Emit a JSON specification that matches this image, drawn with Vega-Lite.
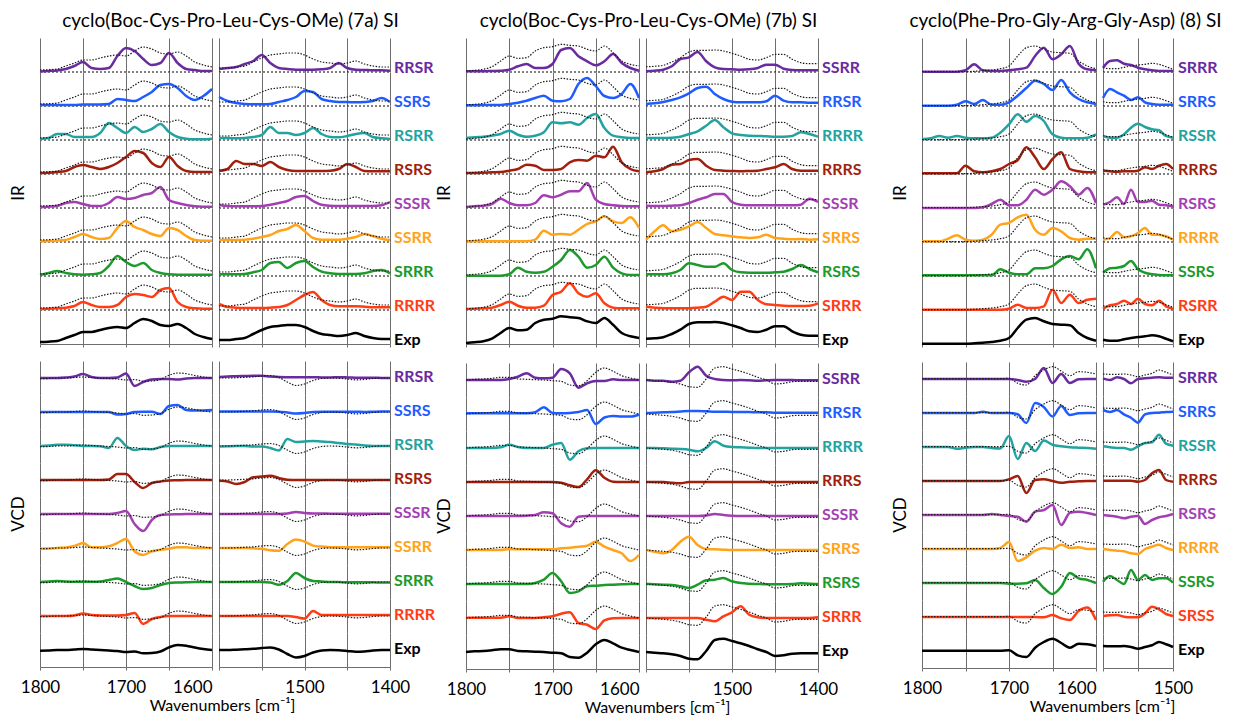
{
"$schema":"https://vega.github.io/schema/vega-lite/v6.json",
"background":"white",
"padding":{"left":10,"top":12,"right":5,"bottom":0},
"config":{
"view":{"stroke":null},
"font":"Lato",
"axis":{"labelFont":"Lato","titleFont":"Lato","labelFontSize":17,"titleFontSize":16,"titleFontWeight":"normal","labelColor":"#000","titleColor":"#000","grid":true,"gridColor":"#6e6e6e","gridWidth":1,"domainColor":"#6e6e6e","tickColor":"#6e6e6e","tickSize":3,"labelPadding":9,"labelFlush":false,"labelOverlap":false},
"header":{"titleFont":"Lato","titleFontSize":17,"titleFontWeight":"normal","titleColor":"#000"},
"title":{"font":"Lato","fontSize":19,"fontWeight":"normal","color":"#000","anchor":"middle"}
},
"datasets":{
"na":[{"k":"t1","n":"RRSR"},{"k":"t2","n":"SSRS"},{"k":"t3","n":"RSRR"},{"k":"t4","n":"RSRS"},{"k":"t5","n":"SSSR"},{"k":"t6","n":"SSRR"},{"k":"t7","n":"SRRR"},{"k":"t8","n":"RRRR"},{"k":"t9","n":"Exp"}],
"nb":[{"k":"t1","n":"SSRR"},{"k":"t2","n":"RRSR"},{"k":"t3","n":"RRRR"},{"k":"t4","n":"RRRS"},{"k":"t5","n":"SSSR"},{"k":"t6","n":"SRRS"},{"k":"t7","n":"RSRS"},{"k":"t8","n":"SRRR"},{"k":"t9","n":"Exp"}],
"nci":[{"k":"t1","n":"SRRR"},{"k":"t2","n":"SRRS"},{"k":"t3","n":"RSSR"},{"k":"t4","n":"RRRS"},{"k":"t5","n":"RSRS"},{"k":"t6","n":"RRRR"},{"k":"t7","n":"SSRS"},{"k":"t8","n":"RSRR"},{"k":"t9","n":"Exp"}],
"ncv":[{"k":"t1","n":"SRRR"},{"k":"t2","n":"SRRS"},{"k":"t3","n":"RSSR"},{"k":"t4","n":"RRRS"},{"k":"t5","n":"RSRS"},{"k":"t6","n":"RRRR"},{"k":"t7","n":"SSRS"},{"k":"t8","n":"SRSS"},{"k":"t9","n":"Exp"}],
"aiL":[
{"w":1800,"t1":0.5,"t2":1,"t3":1,"t4":1,"t5":1,"t6":0.7,"t7":1,"t8":1,"t9":2},
{"w":1790,"t1":1,"t2":1,"t3":2,"t4":1.3,"t5":1.3,"t6":1,"t7":3,"t8":1.3,"t9":2.3},
{"w":1780,"t1":1.5,"t2":1,"t3":6,"t4":2,"t5":2,"t6":1.3,"t7":5,"t8":1.7,"t9":3},
{"w":1770,"t1":3,"t2":1,"t3":6,"t4":3,"t5":5,"t6":2,"t7":3,"t8":2.3,"t9":6},
{"w":1760,"t1":6,"t2":1,"t3":3,"t4":7,"t5":6,"t6":5,"t7":1.7,"t8":4,"t9":9},
{"w":1750,"t1":10,"t2":1.5,"t3":3,"t4":9,"t5":4,"t6":8,"t7":1.3,"t8":8,"t9":12},
{"w":1740,"t1":4,"t2":1.5,"t3":3,"t4":7,"t5":2,"t6":5,"t7":1.7,"t8":5,"t9":12},
{"w":1730,"t1":3,"t2":1.5,"t3":7,"t4":5,"t5":2,"t6":3,"t7":3,"t8":3,"t9":14},
{"w":1720,"t1":4,"t2":2,"t3":17,"t4":7,"t5":5,"t6":4,"t7":10,"t8":3,"t9":16},
{"w":1710,"t1":16,"t2":7,"t3":12,"t4":11,"t5":11,"t6":14,"t7":20,"t8":5,"t9":17},
{"w":1700,"t1":24,"t2":6,"t3":7,"t4":17,"t5":9,"t6":21,"t7":14,"t8":13,"t9":16},
{"w":1690,"t1":21,"t2":5,"t3":13,"t4":23,"t5":10,"t6":15,"t7":10,"t8":16,"t9":21},
{"w":1680,"t1":13,"t2":9,"t3":8,"t4":21,"t5":13,"t6":12,"t7":13,"t8":15,"t9":25},
{"w":1670,"t1":7,"t2":14,"t3":11,"t4":11,"t5":15,"t6":8,"t7":6,"t8":13,"t9":23},
{"w":1660,"t1":9,"t2":21,"t3":16,"t4":7,"t5":21,"t6":6,"t7":3,"t8":20,"t9":19},
{"w":1650,"t1":19,"t2":22,"t3":8,"t4":17,"t5":8,"t6":14,"t7":1.7,"t8":22,"t9":18},
{"w":1640,"t1":9,"t2":18,"t3":3,"t4":8,"t5":5,"t6":12,"t7":1.3,"t8":8,"t9":20},
{"w":1630,"t1":3,"t2":10,"t3":1.3,"t4":3,"t5":3,"t6":6,"t7":1.3,"t8":3,"t9":16},
{"w":1620,"t1":2,"t2":6,"t3":0.7,"t4":2,"t5":1.7,"t6":2,"t7":1.3,"t8":1.7,"t9":10},
{"w":1610,"t1":1,"t2":10,"t3":0.7,"t4":2,"t5":1.3,"t6":1.3,"t7":1.3,"t8":1.3,"t9":7},
{"w":1600,"t1":1,"t2":17,"t3":1.3,"t4":2,"t5":1.3,"t6":1.3,"t7":1.3,"t8":1.3,"t9":5}],
"aiR":[
{"w":1600,"t1":3,"t2":9,"t3":2,"t4":3,"t5":3,"t6":2,"t7":1.7,"t8":6,"t9":4},
{"w":1590,"t1":4,"t2":5,"t3":2,"t4":5,"t5":2,"t6":2,"t7":1.7,"t8":3,"t9":4},
{"w":1580,"t1":5,"t2":3,"t3":1.7,"t4":13,"t5":1.7,"t6":2,"t7":1.7,"t8":2.3,"t9":5},
{"w":1570,"t1":8,"t2":2,"t3":2,"t4":10,"t5":1.7,"t6":2.3,"t7":2,"t8":2,"t9":6},
{"w":1560,"t1":11,"t2":1.7,"t3":3,"t4":10,"t5":1.7,"t6":3.3,"t7":3.7,"t8":2,"t9":10},
{"w":1550,"t1":17,"t2":1.7,"t3":5,"t4":8,"t5":2,"t6":5,"t7":6,"t8":2,"t9":14},
{"w":1540,"t1":9,"t2":2,"t3":13,"t4":12,"t5":3.3,"t6":7,"t7":13,"t8":2.3,"t9":17},
{"w":1530,"t1":4,"t2":4,"t3":7,"t4":7,"t5":5,"t6":11,"t7":14,"t8":3,"t9":18},
{"w":1520,"t1":3,"t2":6,"t3":7,"t4":4,"t5":7,"t6":13,"t7":8,"t8":5,"t9":19},
{"w":1510,"t1":2.3,"t2":9,"t3":5,"t4":3,"t5":11,"t6":17,"t7":13,"t8":10,"t9":19},
{"w":1500,"t1":2.3,"t2":15,"t3":7,"t4":3,"t5":12,"t6":11,"t7":15,"t8":15,"t9":17},
{"w":1490,"t1":2.3,"t2":14,"t3":12,"t4":3,"t5":7,"t6":4,"t7":9,"t8":18,"t9":13},
{"w":1480,"t1":2.7,"t2":7,"t3":6,"t4":3,"t5":3.3,"t6":2.3,"t7":4.3,"t8":10,"t9":10},
{"w":1470,"t1":4,"t2":5,"t3":3,"t4":3.3,"t5":2.3,"t6":2.3,"t7":2.7,"t8":5,"t9":9},
{"w":1460,"t1":9,"t2":4,"t3":2.7,"t4":5,"t5":2,"t6":2.3,"t7":2,"t8":3.7,"t9":8},
{"w":1450,"t1":4,"t2":4,"t3":4,"t4":10,"t5":2,"t6":3.3,"t7":2,"t8":3.7,"t9":9},
{"w":1440,"t1":2.3,"t2":3.7,"t3":6,"t4":7,"t5":2,"t6":5,"t7":2,"t8":3.7,"t9":11},
{"w":1430,"t1":2,"t2":4,"t3":7,"t4":3,"t5":2,"t6":8,"t7":2.7,"t8":3.3,"t9":8},
{"w":1420,"t1":1.7,"t2":5,"t3":3,"t4":2.7,"t5":2,"t6":6,"t7":5,"t8":2.7,"t9":6},
{"w":1410,"t1":1.7,"t2":8,"t3":1.7,"t4":2.7,"t5":2.7,"t6":3.3,"t7":6,"t8":2.7,"t9":5},
{"w":1400,"t1":1.3,"t2":4,"t3":1,"t4":2.7,"t5":6,"t6":2,"t7":2.7,"t8":2.7,"t9":5}],
"avL":[
{"w":1800,"t1":0,"t2":0,"t3":0,"t4":0,"t5":0,"t6":-0.7,"t7":0,"t8":0,"t9":-0.7},
{"w":1790,"t1":0,"t2":0,"t3":0.5,"t4":0,"t5":0,"t6":-0.5,"t7":0.5,"t8":0,"t9":-0.5},
{"w":1780,"t1":0,"t2":0,"t3":1.3,"t4":0,"t5":0,"t6":0,"t7":1,"t8":0,"t9":0},
{"w":1770,"t1":0.5,"t2":0,"t3":1.3,"t4":0,"t5":0,"t6":0.5,"t7":0.5,"t8":0,"t9":0},
{"w":1760,"t1":1.5,"t2":0,"t3":0.7,"t4":0,"t5":0,"t6":2,"t7":0.3,"t8":0.5,"t9":0.5},
{"w":1750,"t1":4,"t2":0,"t3":0,"t4":0,"t5":0,"t6":5,"t7":0.3,"t8":2.5,"t9":1},
{"w":1740,"t1":1,"t2":0,"t3":0,"t4":0,"t5":0,"t6":0.7,"t7":0.3,"t8":1,"t9":0.5},
{"w":1730,"t1":0,"t2":0,"t3":-0.3,"t4":0,"t5":0,"t6":0.7,"t7":0.5,"t8":0.5,"t9":0},
{"w":1720,"t1":0,"t2":0,"t3":-2,"t4":0.5,"t5":0,"t6":1.7,"t7":2,"t8":0.5,"t9":-0.5},
{"w":1710,"t1":0.5,"t2":-2.5,"t3":8,"t4":6,"t5":1,"t6":5,"t7":3.5,"t8":0.5,"t9":-1},
{"w":1700,"t1":4.5,"t2":-2,"t3":0,"t4":6,"t5":3,"t6":9,"t7":0,"t8":1,"t9":-2},
{"w":1690,"t1":-8,"t2":0,"t3":-4,"t4":-2,"t5":-10,"t6":-3.3,"t7":-4,"t8":3,"t9":-1.5},
{"w":1680,"t1":-4,"t2":0.3,"t3":-2.7,"t4":-8,"t5":-17,"t6":-7,"t7":-7,"t8":-8,"t9":-3.3},
{"w":1670,"t1":-1.5,"t2":0.3,"t3":-3.3,"t4":-3,"t5":-6,"t6":-3.3,"t7":-6,"t8":-3,"t9":-3},
{"w":1660,"t1":-1,"t2":-2,"t3":-1,"t4":-1.5,"t5":-1,"t6":-1.7,"t7":-3,"t8":-1,"t9":-1.5},
{"w":1650,"t1":-1,"t2":6,"t3":0,"t4":-0.5,"t5":-0.5,"t6":-0.7,"t7":-1,"t8":0,"t9":2.7},
{"w":1640,"t1":-1.5,"t2":7,"t3":0,"t4":-0.3,"t5":-0.3,"t6":0.7,"t7":-0.5,"t8":0,"t9":5},
{"w":1630,"t1":-0.5,"t2":2,"t3":0,"t4":0,"t5":0,"t6":0.7,"t7":-0.2,"t8":0,"t9":4.3},
{"w":1620,"t1":0,"t2":1.5,"t3":0,"t4":0,"t5":0,"t6":0,"t7":0,"t8":0,"t9":2.5},
{"w":1610,"t1":0,"t2":1.5,"t3":0,"t4":0,"t5":0,"t6":0,"t7":0,"t8":0,"t9":1},
{"w":1600,"t1":0,"t2":2,"t3":0,"t4":0,"t5":0,"t6":0,"t7":0,"t8":0,"t9":0}],
"avR":[
{"w":1600,"t1":1,"t2":0.5,"t3":-0.5,"t4":-0.7,"t5":0,"t6":0,"t7":0,"t8":0,"t9":0},
{"w":1590,"t1":1.5,"t2":0.5,"t3":-0.2,"t4":-1.5,"t5":0,"t6":0,"t7":0,"t8":0,"t9":0},
{"w":1580,"t1":1.7,"t2":0.5,"t3":0,"t4":-4,"t5":0,"t6":0,"t7":0,"t8":0,"t9":0.3},
{"w":1570,"t1":2,"t2":0.5,"t3":0,"t4":-2,"t5":0,"t6":0,"t7":0,"t8":0,"t9":0.7},
{"w":1560,"t1":2.3,"t2":0.5,"t3":-0.5,"t4":2.7,"t5":0,"t6":-0.3,"t7":0,"t8":0,"t9":1.2},
{"w":1550,"t1":2.2,"t2":0.5,"t3":-0.5,"t4":3.5,"t5":0,"t6":-0.8,"t7":0,"t8":0,"t9":2},
{"w":1540,"t1":1.5,"t2":0.5,"t3":-2,"t4":4.3,"t5":0,"t6":-2.3,"t7":-0.5,"t8":0,"t9":2.5},
{"w":1530,"t1":1,"t2":0.3,"t3":-4.5,"t4":2,"t5":0,"t6":-2.8,"t7":-2.7,"t8":0,"t9":0.5},
{"w":1520,"t1":0.8,"t2":-0.5,"t3":7,"t4":0.3,"t5":0.5,"t6":4,"t7":1,"t8":0,"t9":-4},
{"w":1510,"t1":0.7,"t2":-1.5,"t3":4,"t4":0,"t5":2,"t6":8.4,"t7":9,"t8":-1,"t9":-7.5},
{"w":1500,"t1":0.8,"t2":-1,"t3":4.5,"t4":0,"t5":1,"t6":6.4,"t7":4,"t8":-2.5,"t9":-6},
{"w":1490,"t1":0.8,"t2":0,"t3":5,"t4":0,"t5":0.5,"t6":2.4,"t7":1,"t8":5,"t9":-2.5},
{"w":1480,"t1":0.6,"t2":0.3,"t3":4.5,"t4":0,"t5":0.5,"t6":1.4,"t7":0.5,"t8":1,"t9":-0.5},
{"w":1470,"t1":0.5,"t2":0.3,"t3":4,"t4":0,"t5":0.3,"t6":0.7,"t7":0,"t8":1,"t9":0},
{"w":1460,"t1":0.8,"t2":0.3,"t3":3,"t4":0,"t5":0.3,"t6":0.7,"t7":0,"t8":1,"t9":-0.3},
{"w":1450,"t1":0.6,"t2":0.3,"t3":2,"t4":0,"t5":0.3,"t6":0.7,"t7":-0.3,"t8":1,"t9":-1},
{"w":1440,"t1":0.3,"t2":0.3,"t3":1.5,"t4":0,"t5":0.3,"t6":0.7,"t7":-0.3,"t8":1,"t9":-1.8},
{"w":1430,"t1":0.2,"t2":0,"t3":0.5,"t4":0,"t5":0.3,"t6":0.7,"t7":-0.3,"t8":1,"t9":-1.5},
{"w":1420,"t1":0.3,"t2":0.3,"t3":0,"t4":0,"t5":0.3,"t6":0.7,"t7":-0.3,"t8":1,"t9":-0.5},
{"w":1410,"t1":0,"t2":0.5,"t3":0,"t4":0,"t5":0.3,"t6":0.7,"t7":-0.5,"t8":1,"t9":0},
{"w":1400,"t1":0,"t2":0.5,"t3":0,"t4":0,"t5":0.3,"t6":0.7,"t7":-0.5,"t8":1,"t9":0}],
"biL":[
{"w":1800,"t1":0.7,"t2":0.7,"t3":2,"t4":1,"t5":1,"t6":0.7,"t7":0.3,"t8":1,"t9":1},
{"w":1790,"t1":0.7,"t2":0.7,"t3":2.7,"t4":1,"t5":1.7,"t6":0.7,"t7":0.3,"t8":1.3,"t9":1.7},
{"w":1780,"t1":0.7,"t2":1,"t3":3.3,"t4":1.3,"t5":2.3,"t6":0.7,"t7":0.3,"t8":1.7,"t9":2.7},
{"w":1770,"t1":1,"t2":1,"t3":4.3,"t4":1.7,"t5":4,"t6":0.7,"t7":0.3,"t8":2.3,"t9":5.3},
{"w":1760,"t1":1.3,"t2":1,"t3":6,"t4":2,"t5":9.3,"t6":0.7,"t7":0.3,"t8":5,"t9":11},
{"w":1750,"t1":2.3,"t2":2,"t3":9.3,"t4":3.3,"t5":5,"t6":0.7,"t7":1.7,"t8":8.3,"t9":16},
{"w":1740,"t1":5.7,"t2":3.3,"t3":5.3,"t4":5,"t5":2.7,"t6":0.7,"t7":8.3,"t8":4.3,"t9":13.7},
{"w":1730,"t1":8,"t2":5.3,"t3":3.3,"t4":9.3,"t5":2.7,"t6":0.7,"t7":4.3,"t8":2.3,"t9":14.3},
{"w":1720,"t1":4,"t2":8,"t3":4.3,"t4":8.3,"t5":5,"t6":2.3,"t7":3.3,"t8":2.3,"t9":21},
{"w":1710,"t1":4,"t2":10.3,"t3":7.7,"t4":4,"t5":12.7,"t6":11.3,"t7":4.3,"t8":4.3,"t9":24.3},
{"w":1700,"t1":8,"t2":5.3,"t3":17.7,"t4":4,"t5":10.7,"t6":7.3,"t7":9.3,"t8":15,"t9":25.3},
{"w":1690,"t1":22,"t2":4.7,"t3":16.7,"t4":5,"t5":13.3,"t6":8,"t7":16,"t8":18.3,"t9":27.7},
{"w":1680,"t1":24,"t2":7,"t3":17.7,"t4":11.7,"t5":16.7,"t6":7.3,"t7":26,"t8":26.7,"t9":26.7},
{"w":1670,"t1":15.7,"t2":22,"t3":15.3,"t4":14,"t5":16.7,"t6":12.3,"t7":19.3,"t8":16.7,"t9":26},
{"w":1660,"t1":10.7,"t2":28,"t3":22,"t4":13.3,"t5":25,"t6":18,"t7":8.3,"t8":13.3,"t9":22.7},
{"w":1650,"t1":6.7,"t2":20,"t3":26,"t4":18.3,"t5":8.3,"t6":20.7,"t7":11,"t8":16.7,"t9":21},
{"w":1640,"t1":10.7,"t2":10,"t3":12,"t4":16.7,"t5":4,"t6":25.7,"t7":19.3,"t8":6.7,"t9":26},
{"w":1630,"t1":18,"t2":8,"t3":4.3,"t4":27.3,"t5":2.7,"t6":20.7,"t7":8.3,"t8":2.3,"t9":19.3},
{"w":1620,"t1":9,"t2":12,"t3":2.7,"t4":11.7,"t5":2,"t6":19,"t7":2.7,"t8":1.7,"t9":11},
{"w":1610,"t1":4,"t2":22,"t3":2,"t4":5,"t5":1.7,"t6":24.7,"t7":1,"t8":1.7,"t9":7.7},
{"w":1600,"t1":1.3,"t2":8,"t3":2,"t4":2.7,"t5":1.7,"t6":14,"t7":1,"t8":1.7,"t9":6}],
"biR":[
{"w":1600,"t1":0.7,"t2":2,"t3":2,"t4":1.7,"t5":2.3,"t6":2.3,"t7":1.7,"t8":3.3,"t9":5.3},
{"w":1590,"t1":1.3,"t2":2.7,"t3":2,"t4":2.7,"t5":2,"t6":10.7,"t7":1.7,"t8":2.3,"t9":5.7},
{"w":1580,"t1":2.3,"t2":4,"t3":2,"t4":5,"t5":2,"t6":16.7,"t7":1.7,"t8":1.7,"t9":6.7},
{"w":1570,"t1":5.7,"t2":6,"t3":2.3,"t4":9.3,"t5":2.3,"t6":10.7,"t7":2.7,"t8":1.7,"t9":10},
{"w":1560,"t1":13,"t2":8.7,"t3":3.3,"t4":10,"t5":2.7,"t6":12.3,"t7":6,"t8":1.7,"t9":14.3},
{"w":1550,"t1":14.7,"t2":12.7,"t3":6,"t4":14,"t5":5,"t6":15.7,"t7":12.7,"t8":1.7,"t9":20},
{"w":1540,"t1":20,"t2":18,"t3":8.7,"t4":15,"t5":8.3,"t6":20,"t7":11,"t8":2.3,"t9":21.7},
{"w":1530,"t1":10.7,"t2":19.3,"t3":14.3,"t4":8.3,"t5":10.7,"t6":14,"t7":9.3,"t8":3.3,"t9":21.7},
{"w":1520,"t1":4.7,"t2":12,"t3":20,"t4":4,"t5":14,"t6":8,"t7":9.3,"t8":8.3,"t9":22},
{"w":1510,"t1":3,"t2":7,"t3":12.7,"t4":3.3,"t5":14,"t6":6.7,"t7":12.7,"t8":13.3,"t9":21},
{"w":1500,"t1":2.7,"t2":4.3,"t3":6.7,"t4":3,"t5":6,"t6":5.7,"t7":6,"t8":10,"t9":18.7},
{"w":1490,"t1":2.3,"t2":3.7,"t3":5,"t4":2.7,"t5":3.3,"t6":4.7,"t7":3.7,"t8":18.3,"t9":16},
{"w":1480,"t1":2.7,"t2":3.7,"t3":4.3,"t4":3,"t5":2.7,"t6":4,"t7":3.3,"t8":18.3,"t9":12.7},
{"w":1470,"t1":4,"t2":3.7,"t3":4,"t4":3.3,"t5":2.7,"t6":4.7,"t7":3.3,"t8":10,"t9":12},
{"w":1460,"t1":7.3,"t2":4.7,"t3":3.7,"t4":5,"t5":2.7,"t6":7.3,"t7":3.3,"t8":5.7,"t9":14.3},
{"w":1450,"t1":7.3,"t2":10.3,"t3":3.3,"t4":6.7,"t5":2.7,"t6":4,"t7":3.7,"t8":5,"t9":17.7},
{"w":1440,"t1":3.3,"t2":5.3,"t3":3.3,"t4":10,"t5":2.7,"t6":3.3,"t7":4.3,"t8":4.3,"t9":17.7},
{"w":1430,"t1":2,"t2":3.7,"t3":4,"t4":5,"t5":2.7,"t6":2.7,"t7":7,"t8":4,"t9":12.7},
{"w":1420,"t1":1.7,"t2":3.7,"t3":7.7,"t4":3.3,"t5":3.3,"t6":3,"t7":11,"t8":4,"t9":9.3},
{"w":1410,"t1":1.7,"t2":3.3,"t3":6,"t4":3.3,"t5":9.3,"t6":2.3,"t7":7,"t8":4.3,"t9":8.3},
{"w":1400,"t1":1.7,"t2":3.3,"t3":3.3,"t4":3.3,"t5":6,"t6":2.7,"t7":3.7,"t8":6.7,"t9":8.3}],
"bvL":[
{"w":1800,"t1":0,"t2":0.7,"t3":0,"t4":0,"t5":0,"t6":0,"t7":0,"t8":0.3,"t9":0},
{"w":1790,"t1":0,"t2":0.7,"t3":0,"t4":0,"t5":0,"t6":0,"t7":0,"t8":0.3,"t9":0.7},
{"w":1780,"t1":0,"t2":0.7,"t3":0,"t4":0,"t5":0,"t6":0,"t7":0,"t8":0.3,"t9":1},
{"w":1770,"t1":0,"t2":0.7,"t3":0,"t4":0,"t5":0,"t6":0,"t7":0,"t8":0.3,"t9":1.7},
{"w":1760,"t1":0,"t2":0.7,"t3":0.7,"t4":0,"t5":0,"t6":0,"t7":0,"t8":0.3,"t9":2.7},
{"w":1750,"t1":1,"t2":0.7,"t3":3.3,"t4":0,"t5":0,"t6":1,"t7":0,"t8":1.7,"t9":2.7},
{"w":1740,"t1":3.3,"t2":0.7,"t3":1,"t4":0,"t5":0,"t6":0.7,"t7":0,"t8":0,"t9":1},
{"w":1730,"t1":6.7,"t2":0.7,"t3":0,"t4":0,"t5":0.3,"t6":0.7,"t7":0,"t8":0,"t9":0.7},
{"w":1720,"t1":2.3,"t2":1.7,"t3":0,"t4":0,"t5":1,"t6":0.7,"t7":1,"t8":0,"t9":0.3},
{"w":1710,"t1":1.7,"t2":6.7,"t3":0,"t4":0,"t5":3.7,"t6":0.7,"t7":4.3,"t8":0.7,"t9":0},
{"w":1700,"t1":2.3,"t2":1,"t3":3.3,"t4":0,"t5":2.7,"t6":0.7,"t7":11,"t8":1.7,"t9":-0.7},
{"w":1690,"t1":11,"t2":0.7,"t3":5,"t4":-0.7,"t5":-7.3,"t6":1.7,"t7":2.7,"t8":4.3,"t9":-1.3},
{"w":1680,"t1":6.7,"t2":1,"t3":-11.7,"t4":-3.3,"t5":-10.7,"t6":2.3,"t7":-9,"t8":5.7,"t9":-5},
{"w":1670,"t1":-7.7,"t2":2,"t3":-3.3,"t4":-5,"t5":-0.7,"t6":3.3,"t7":-7.3,"t8":-5,"t9":-5.7},
{"w":1660,"t1":-3.3,"t2":4,"t3":-0.3,"t4":2.7,"t5":0,"t6":4.3,"t7":-2.3,"t8":-6.7,"t9":-0.7},
{"w":1650,"t1":-1,"t2":-10,"t3":0,"t4":11.7,"t5":0,"t6":8.3,"t7":-1.7,"t8":-11,"t9":7.7},
{"w":1640,"t1":-1,"t2":-3.5,"t3":0,"t4":4.3,"t5":0,"t6":3.3,"t7":-1,"t8":-2.3,"t9":12},
{"w":1630,"t1":0.7,"t2":-2,"t3":0,"t4":0.3,"t5":0,"t6":0,"t7":-0.7,"t8":-0.3,"t9":8.7},
{"w":1620,"t1":0,"t2":-2.5,"t3":0,"t4":0,"t5":0,"t6":-3.3,"t7":-0.3,"t8":0,"t9":4.3},
{"w":1610,"t1":0,"t2":-2.5,"t3":0,"t4":0,"t5":0,"t6":-11,"t7":0,"t8":0,"t9":2},
{"w":1600,"t1":0,"t2":-0.7,"t3":0,"t4":0,"t5":0,"t6":-5,"t7":0,"t8":0,"t9":0}],
"bvR":[
{"w":1600,"t1":0,"t2":1,"t3":0,"t4":0,"t5":0,"t6":0,"t7":0,"t8":0,"t9":0},
{"w":1590,"t1":-0.7,"t2":1.3,"t3":0,"t4":0,"t5":0,"t6":-1.7,"t7":-0.3,"t8":0,"t9":-0.7},
{"w":1580,"t1":-0.7,"t2":1.7,"t3":-0.3,"t4":0,"t5":0,"t6":-3.3,"t7":-0.7,"t8":0,"t9":-1.3},
{"w":1570,"t1":-1.7,"t2":2,"t3":-0.7,"t4":-0.7,"t5":0,"t6":0,"t7":-1,"t8":0,"t9":-2.3},
{"w":1560,"t1":-0.7,"t2":2.5,"t3":-1,"t4":-1.3,"t5":0,"t6":8.3,"t7":-2.3,"t8":0,"t9":-4},
{"w":1550,"t1":7.7,"t2":3,"t3":-1.7,"t4":0,"t5":0,"t6":13.3,"t7":-4,"t8":0,"t9":-6.7},
{"w":1540,"t1":13.3,"t2":3,"t3":-3.3,"t4":0,"t5":0,"t6":5,"t7":-0.7,"t8":0,"t9":-7.3},
{"w":1530,"t1":4.3,"t2":2.7,"t3":0,"t4":0,"t5":0.5,"t6":1,"t7":3.7,"t8":-1.7,"t9":1},
{"w":1520,"t1":1,"t2":2.3,"t3":6.7,"t4":0,"t5":2,"t6":0.7,"t7":4.3,"t8":-3.3,"t9":12},
{"w":1510,"t1":0,"t2":2.3,"t3":2.3,"t4":0,"t5":1,"t6":0.3,"t7":6,"t8":1.7,"t9":13.3},
{"w":1500,"t1":-0.3,"t2":2,"t3":1,"t4":0,"t5":0.3,"t6":0,"t7":2.7,"t8":5.7,"t9":11},
{"w":1490,"t1":0,"t2":2,"t3":0.7,"t4":0,"t5":0,"t6":0,"t7":1,"t8":11.7,"t9":8.7},
{"w":1480,"t1":-0.3,"t2":2,"t3":0.3,"t4":0,"t5":0,"t6":0,"t7":0.3,"t8":3.3,"t9":6},
{"w":1470,"t1":-0.7,"t2":1.7,"t3":0,"t4":0,"t5":0,"t6":0,"t7":0,"t8":0.7,"t9":2.7},
{"w":1460,"t1":-0.3,"t2":1.7,"t3":0,"t4":0,"t5":0,"t6":0,"t7":-0.3,"t8":0,"t9":0},
{"w":1450,"t1":0,"t2":1.3,"t3":0,"t4":0,"t5":0,"t6":0,"t7":-0.3,"t8":0,"t9":-4},
{"w":1440,"t1":0,"t2":1.3,"t3":0,"t4":0,"t5":0,"t6":0,"t7":-0.3,"t8":0,"t9":-3.3},
{"w":1430,"t1":0,"t2":1.3,"t3":0,"t4":0,"t5":0,"t6":0,"t7":0,"t8":0,"t9":-1.7},
{"w":1420,"t1":-0.3,"t2":1.3,"t3":0,"t4":0,"t5":0,"t6":0,"t7":0.7,"t8":0,"t9":-1.3},
{"w":1410,"t1":-0.3,"t2":1.3,"t3":0,"t4":0,"t5":0,"t6":0,"t7":0.3,"t8":0,"t9":-1.3},
{"w":1400,"t1":-0.3,"t2":1.3,"t3":0,"t4":0,"t5":0,"t6":0,"t7":0,"t8":0.7,"t9":-1.3}],
"ciL":[
{"w":1800,"t1":0.3,"t2":0.3,"t3":0.7,"t4":0.7,"t5":0,"t6":0.7,"t7":0.7,"t8":0.3,"t9":0.3},
{"w":1790,"t1":0.3,"t2":0.3,"t3":1.7,"t4":0.7,"t5":0,"t6":0.7,"t7":0.7,"t8":0.3,"t9":0.3},
{"w":1780,"t1":0.3,"t2":0.3,"t3":4,"t4":0.7,"t5":0,"t6":0.7,"t7":0.7,"t8":0.3,"t9":0.3},
{"w":1770,"t1":0.3,"t2":0.3,"t3":2.3,"t4":0.7,"t5":0,"t6":3.3,"t7":0.7,"t8":0.3,"t9":0.3},
{"w":1760,"t1":0.3,"t2":1.3,"t3":4,"t4":0.7,"t5":0,"t6":6.7,"t7":0.7,"t8":0.3,"t9":0.3},
{"w":1750,"t1":1.7,"t2":4.7,"t3":2.3,"t4":8.3,"t5":0,"t6":2.3,"t7":0.7,"t8":0.3,"t9":0.3},
{"w":1740,"t1":7.7,"t2":2,"t3":1.7,"t4":2.7,"t5":0,"t6":1.3,"t7":0.7,"t8":0.3,"t9":0.7},
{"w":1730,"t1":1.7,"t2":6,"t3":1.7,"t4":1.7,"t5":0.7,"t6":2.3,"t7":0.7,"t8":0.3,"t9":1.3},
{"w":1720,"t1":1,"t2":1.3,"t3":2.3,"t4":2.7,"t5":4,"t6":7.3,"t7":0.7,"t8":0.3,"t9":2},
{"w":1710,"t1":1,"t2":1.3,"t3":7.3,"t4":5,"t5":8.3,"t6":17.3,"t7":6.7,"t8":0.3,"t9":3.3},
{"w":1700,"t1":1.7,"t2":3.7,"t3":15.7,"t4":10,"t5":2.7,"t6":19,"t7":3.3,"t8":1.3,"t9":6},
{"w":1690,"t1":2.7,"t2":10.3,"t3":25.7,"t4":14,"t5":2.7,"t6":24.7,"t7":1.7,"t8":5.3,"t9":16},
{"w":1680,"t1":4.3,"t2":18,"t3":18.3,"t4":26.7,"t5":8.3,"t6":27.3,"t7":1.7,"t8":2,"t9":24.3},
{"w":1670,"t1":16,"t2":25.3,"t3":24,"t4":16.7,"t5":18.3,"t6":12.3,"t7":7.7,"t8":2,"t9":26},
{"w":1660,"t1":24.3,"t2":22,"t3":19,"t4":5,"t5":13.3,"t6":7.3,"t7":7.7,"t8":3.7,"t9":22.7},
{"w":1650,"t1":12.7,"t2":16,"t3":5.7,"t4":15,"t5":18.3,"t6":14,"t7":10,"t8":20.3,"t9":20},
{"w":1640,"t1":17.7,"t2":26,"t3":2.3,"t4":21.7,"t5":26.7,"t6":10.7,"t7":16.7,"t8":7,"t9":19.3},
{"w":1630,"t1":26,"t2":13.7,"t3":1.7,"t4":5,"t5":21.7,"t6":4,"t7":20,"t8":15.3,"t9":18.7},
{"w":1620,"t1":8.3,"t2":7,"t3":1.7,"t4":2.7,"t5":13.3,"t6":2.3,"t7":16.7,"t8":7,"t9":11},
{"w":1610,"t1":2.7,"t2":3.7,"t3":2.3,"t4":1.7,"t5":20,"t6":3.3,"t7":26.7,"t8":10.3,"t9":6},
{"w":1600,"t1":1.7,"t2":2,"t3":5.7,"t4":1.7,"t5":5,"t6":3.3,"t7":7.7,"t8":11.3,"t9":3.3}],
"ciR":[
{"w":1600,"t1":4.3,"t2":8,"t3":4,"t4":3.3,"t5":3.3,"t6":2.3,"t7":3.3,"t8":1.3,"t9":4.3},
{"w":1590,"t1":11,"t2":17,"t3":2.3,"t4":2.7,"t5":6,"t6":4,"t7":7.7,"t8":4.7,"t9":3.3},
{"w":1580,"t1":11.7,"t2":13.7,"t3":2.3,"t4":2.3,"t5":10.7,"t6":10,"t7":8.3,"t8":6,"t9":3.3},
{"w":1570,"t1":8.3,"t2":10.3,"t3":5.7,"t4":2.7,"t5":4,"t6":4.7,"t7":10,"t8":9.3,"t9":4.7},
{"w":1560,"t1":7,"t2":6,"t3":12.3,"t4":2.7,"t5":18.3,"t6":5.7,"t7":15,"t8":6,"t9":6},
{"w":1550,"t1":4.3,"t2":8.7,"t3":16.3,"t4":3.3,"t5":6,"t6":9,"t7":6.7,"t8":11.3,"t9":7},
{"w":1540,"t1":2.7,"t2":3.7,"t3":13,"t4":6.7,"t5":6,"t6":14,"t7":3.3,"t8":6,"t9":7.7},
{"w":1530,"t1":1.7,"t2":2,"t3":10.7,"t4":5,"t5":7.3,"t6":7.3,"t7":1.7,"t8":4.7,"t9":8.7},
{"w":1520,"t1":1,"t2":1.3,"t3":9.7,"t4":8.3,"t5":3.3,"t6":7.3,"t7":1,"t8":9.3,"t9":7.7},
{"w":1510,"t1":1,"t2":1.3,"t3":4,"t4":10,"t5":2.7,"t6":5.7,"t7":0.7,"t8":3.7,"t9":5.3},
{"w":1500,"t1":1,"t2":1.3,"t3":2.3,"t4":5,"t5":1.7,"t6":2.3,"t7":0.7,"t8":1.3,"t9":2.7}],
"cvL":[
{"w":1800,"t1":0,"t2":0,"t3":0,"t4":0,"t5":0,"t6":0,"t7":0,"t8":0,"t9":0.3},
{"w":1790,"t1":0,"t2":0,"t3":0,"t4":0,"t5":0,"t6":0,"t7":0,"t8":0,"t9":0.3},
{"w":1780,"t1":0,"t2":0,"t3":0,"t4":0,"t5":0,"t6":0,"t7":0,"t8":0,"t9":0.3},
{"w":1770,"t1":0,"t2":0,"t3":0,"t4":0,"t5":0,"t6":0,"t7":0,"t8":0,"t9":0.3},
{"w":1760,"t1":0,"t2":0,"t3":-1.7,"t4":0,"t5":0,"t6":0,"t7":0,"t8":0,"t9":0.3},
{"w":1750,"t1":0,"t2":0,"t3":-0.7,"t4":0,"t5":0,"t6":0,"t7":0,"t8":0,"t9":0.3},
{"w":1740,"t1":0,"t2":0,"t3":0,"t4":0,"t5":0,"t6":0,"t7":0,"t8":0,"t9":0.3},
{"w":1730,"t1":0,"t2":1.3,"t3":0,"t4":0,"t5":0,"t6":0,"t7":0,"t8":0,"t9":0.3},
{"w":1720,"t1":0,"t2":0,"t3":-1,"t4":0,"t5":1,"t6":0,"t7":0,"t8":0,"t9":0.3},
{"w":1710,"t1":0,"t2":0,"t3":-1.5,"t4":0,"t5":0,"t6":1,"t7":0,"t8":0,"t9":0.3},
{"w":1700,"t1":0,"t2":0,"t3":11,"t4":1.7,"t5":-1,"t6":7,"t7":-0.7,"t8":0,"t9":0.7},
{"w":1690,"t1":-1,"t2":-1.3,"t3":-12,"t4":5,"t5":-1.7,"t6":-12,"t7":-0.7,"t8":0,"t9":-4.3},
{"w":1680,"t1":-2.7,"t2":-10,"t3":4,"t4":-12,"t5":-6.7,"t6":-8.3,"t7":-0.3,"t8":0,"t9":-6},
{"w":1670,"t1":0,"t2":10,"t3":-4,"t4":1,"t5":3.3,"t6":-1.7,"t7":3,"t8":0,"t9":3.3},
{"w":1660,"t1":11,"t2":6,"t3":6.5,"t4":1.7,"t5":5,"t6":1,"t7":-5,"t8":-0.3,"t9":9},
{"w":1650,"t1":-4,"t2":-3.5,"t3":2.3,"t4":0,"t5":10,"t6":0,"t7":-11,"t8":2,"t9":12.3},
{"w":1640,"t1":5,"t2":7,"t3":0.7,"t4":-1.7,"t5":-10,"t6":4.3,"t7":-3.7,"t8":-1.3,"t9":8},
{"w":1630,"t1":-4,"t2":-2,"t3":-0.3,"t4":-0.7,"t5":2.3,"t6":1,"t7":10,"t8":-3,"t9":3.3},
{"w":1620,"t1":-0.3,"t2":-0.3,"t3":-0.7,"t4":-0.3,"t5":3.3,"t6":1.7,"t7":4.7,"t8":6,"t9":7.3},
{"w":1610,"t1":0,"t2":0,"t3":-1,"t4":0,"t5":2,"t6":0,"t7":3,"t8":9.5,"t9":6.7},
{"w":1600,"t1":0,"t2":0,"t3":-1.7,"t4":0,"t5":0,"t6":0,"t7":0,"t8":-3,"t9":5}],
"cvR":[
{"w":1600,"t1":0.7,"t2":3,"t3":0.7,"t4":0.3,"t5":0,"t6":0,"t7":1.3,"t8":1,"t9":5},
{"w":1590,"t1":-1,"t2":1,"t3":-0.3,"t4":0.3,"t5":-0.7,"t6":-1,"t7":7,"t8":1.7,"t9":4.7},
{"w":1580,"t1":1.7,"t2":3,"t3":-1,"t4":0.3,"t5":-1.7,"t6":-1.7,"t7":3,"t8":2,"t9":4.7},
{"w":1570,"t1":0,"t2":-1.3,"t3":-1,"t4":0.3,"t5":-3.3,"t6":-2.3,"t7":-1,"t8":0.3,"t9":5},
{"w":1560,"t1":-4.3,"t2":-4.7,"t3":-2.7,"t4":0.3,"t5":-1.7,"t6":-4.3,"t7":13,"t8":-0.3,"t9":4},
{"w":1550,"t1":0,"t2":-9.7,"t3":0.7,"t4":-0.7,"t5":-1,"t6":-5,"t7":3,"t8":-0.3,"t9":2.3},
{"w":1540,"t1":0.7,"t2":-1.3,"t3":4,"t4":1,"t5":-9,"t6":0,"t7":8,"t8":3.7,"t9":4},
{"w":1530,"t1":1.3,"t2":0,"t3":4.7,"t4":7.7,"t5":-5,"t6":2.3,"t7":3,"t8":10.3,"t9":5.7},
{"w":1520,"t1":1.7,"t2":0.3,"t3":12.3,"t4":11,"t5":-2.3,"t6":4.3,"t7":4.7,"t8":7.7,"t9":9},
{"w":1510,"t1":1.3,"t2":1,"t3":3.3,"t4":1,"t5":-1,"t6":1,"t7":4.7,"t8":3,"t9":6.7},
{"w":1500,"t1":1.3,"t2":1.3,"t3":1.3,"t4":-0.7,"t5":1,"t6":-1,"t7":0.3,"t8":1,"t9":4}]
},
"hconcat":[
{"hconcat":[
{"title":{"text":"cyclo(Boc-Cys-Pro-Leu-Cys-OMe) (7a) SI","offset":7,"dx":8},
"vconcat":[
{"hconcat":[
{"data":{"name":"aiL"},"transform":[{"fold":["t1","t2","t3","t4","t5","t6","t7","t8","t9"],"as":["k","v"]}],
"facet":{"row":{"field":"k","type":"nominal","title":"IR","header":{"labels":false,"titlePadding":2}}},"spacing":0,"bounds":"flush",
"spec":{"width":172,"height":34,"encoding":{"x":{"field":"w","type":"quantitative","scale":{"domain":[1800,1600],"nice":false,"zero":false},"axis":{"values":[1800,1750,1700,1650,1600],"labels":false,"title":null}}},
"layer":[
{"transform":[{"filter":"datum.k != 't9'"}],"mark":{"type":"line","strokeDash":[2,2],"strokeWidth":1,"color":"#000"},"encoding":{"y":{"datum":0,"type":"quantitative","scale":{"domain":[0,34]},"axis":null}}},
{"mark":{"type":"line","interpolate":"monotone","strokeWidth":2.5},"encoding":{"y":{"field":"v","type":"quantitative","scale":{"domain":[0,34]},"axis":null},"color":{"field":"k","type":"nominal","scale":{"domain":["t1","t2","t3","t4","t5","t6","t7","t8","t9"],"range":["#6a2aa0","#1f5cff","#22a39f","#a11f0c","#a43fb3","#ffa41a","#1c9a2b","#ff3c14","#000000"]},"legend":null}}},
{"transform":[{"filter":"datum.k != 't9'"}],"mark":{"type":"line","interpolate":"monotone","strokeDash":[1.5,1.5],"strokeWidth":1.2,"color":"#1a1a1a"},"encoding":{"y":{"field":"t9","type":"quantitative","scale":{"domain":[0,34]},"axis":null}}}
]}},
{"data":{"name":"aiR"},"transform":[{"fold":["t1","t2","t3","t4","t5","t6","t7","t8","t9"],"as":["k","v"]},{"lookup":"k","from":{"data":{"name":"na"},"key":"k","fields":["n"]}}],
"facet":{"row":{"field":"k","type":"nominal","title":null,"header":{"labels":false}}},"spacing":0,"bounds":"flush",
"spec":{"width":171,"height":34,"encoding":{"x":{"field":"w","type":"quantitative","scale":{"domain":[1600,1400],"nice":false,"zero":false},"axis":{"values":[1600,1550,1500,1450,1400],"labels":false,"title":null}}},
"layer":[
{"transform":[{"filter":"datum.k != 't9'"}],"mark":{"type":"line","strokeDash":[2,2],"strokeWidth":1,"color":"#000"},"encoding":{"y":{"datum":0,"type":"quantitative","scale":{"domain":[0,34]},"axis":null}}},
{"mark":{"type":"line","interpolate":"monotone","strokeWidth":2.5},"encoding":{"y":{"field":"v","type":"quantitative","scale":{"domain":[0,34]},"axis":null},"color":{"field":"k","type":"nominal","scale":{"domain":["t1","t2","t3","t4","t5","t6","t7","t8","t9"],"range":["#6a2aa0","#1f5cff","#22a39f","#a11f0c","#a43fb3","#ffa41a","#1c9a2b","#ff3c14","#000000"]},"legend":null}}},
{"transform":[{"filter":"datum.k != 't9'"}],"mark":{"type":"line","interpolate":"monotone","strokeDash":[1.5,1.5],"strokeWidth":1.2,"color":"#1a1a1a"},"encoding":{"y":{"field":"t9","type":"quantitative","scale":{"domain":[0,34]},"axis":null}}},
{"transform":[{"filter":"datum.w == 1400"}],"mark":{"type":"text","align":"left","baseline":"middle","dx":4,"dy":-4,"fontSize":16,"fontWeight":"bold","font":"Lato"},"encoding":{"y":{"datum":0,"type":"quantitative","scale":{"domain":[0,34]},"axis":null},"text":{"field":"n","type":"nominal"},"color":{"field":"k","type":"nominal","legend":null}}}
]}}
],"spacing":-3},
{"title":{"text":"Wavenumbers [cm⁻¹]","orient":"bottom","offset":3,"fontSize":16,"dx":0},
"hconcat":[
{"data":{"name":"avL"},"transform":[{"fold":["t1","t2","t3","t4","t5","t6","t7","t8","t9"],"as":["k","v"]}],
"facet":{"row":{"field":"k","type":"nominal","title":"VCD","header":{"labels":false,"titlePadding":2}}},"spacing":0,"bounds":"flush",
"spec":{"width":172,"height":34,"encoding":{"x":{"field":"w","type":"quantitative","scale":{"domain":[1800,1600],"nice":false,"zero":false},"axis":{"values":[1800,1750,1700,1650,1600],"format":"d","labelExpr":"datum.value % 100 == 0 ? datum.label : ''","labelAlign":{"condition":{"test":"datum.value == 1600","value":"right"},"value":"center"},"title":null}}},
"layer":[
{"mark":{"type":"line","interpolate":"monotone","strokeWidth":2.5},"encoding":{"y":{"field":"v","type":"quantitative","scale":{"domain":[-17,17]},"axis":null},"color":{"field":"k","type":"nominal","scale":{"domain":["t1","t2","t3","t4","t5","t6","t7","t8","t9"],"range":["#6a2aa0","#1f5cff","#22a39f","#a11f0c","#a43fb3","#ffa41a","#1c9a2b","#ff3c14","#000000"]},"legend":null}}},
{"transform":[{"filter":"datum.k != 't9'"}],"mark":{"type":"line","interpolate":"monotone","strokeDash":[1.5,1.5],"strokeWidth":1.2,"color":"#1a1a1a"},"encoding":{"y":{"field":"t9","type":"quantitative","scale":{"domain":[-17,17]},"axis":null}}}
]}},
{"data":{"name":"avR"},"transform":[{"fold":["t1","t2","t3","t4","t5","t6","t7","t8","t9"],"as":["k","v"]},{"lookup":"k","from":{"data":{"name":"na"},"key":"k","fields":["n"]}}],
"facet":{"row":{"field":"k","type":"nominal","title":null,"header":{"labels":false}}},"spacing":0,"bounds":"flush",
"spec":{"width":171,"height":34,"encoding":{"x":{"field":"w","type":"quantitative","scale":{"domain":[1600,1400],"nice":false,"zero":false},"axis":{"values":[1600,1550,1500,1450,1400],"format":"d","labelExpr":"datum.value == 1500 || datum.value == 1400 ? datum.label : ''","title":null}}},
"layer":[
{"mark":{"type":"line","interpolate":"monotone","strokeWidth":2.5},"encoding":{"y":{"field":"v","type":"quantitative","scale":{"domain":[-17,17]},"axis":null},"color":{"field":"k","type":"nominal","scale":{"domain":["t1","t2","t3","t4","t5","t6","t7","t8","t9"],"range":["#6a2aa0","#1f5cff","#22a39f","#a11f0c","#a43fb3","#ffa41a","#1c9a2b","#ff3c14","#000000"]},"legend":null}}},
{"transform":[{"filter":"datum.k != 't9'"}],"mark":{"type":"line","interpolate":"monotone","strokeDash":[1.5,1.5],"strokeWidth":1.2,"color":"#1a1a1a"},"encoding":{"y":{"field":"t9","type":"quantitative","scale":{"domain":[-17,17]},"axis":null}}},
{"transform":[{"filter":"datum.w == 1400"}],"mark":{"type":"text","align":"left","baseline":"middle","dx":4,"dy":-1,"fontSize":16,"fontWeight":"bold","font":"Lato"},"encoding":{"y":{"datum":0,"type":"quantitative","scale":{"domain":[-17,17]},"axis":null},"text":{"field":"n","type":"nominal"},"color":{"field":"k","type":"nominal","legend":null}}}
]}}
],"spacing":-3}
],"spacing":13},
{"title":{"text":"cyclo(Boc-Cys-Pro-Leu-Cys-OMe) (7b) SI","offset":7,"dx":-1},
"vconcat":[
{"hconcat":[
{"data":{"name":"biL"},"transform":[{"fold":["t1","t2","t3","t4","t5","t6","t7","t8","t9"],"as":["k","v"]}],
"facet":{"row":{"field":"k","type":"nominal","title":"IR","header":{"labels":false,"titlePadding":2}}},"spacing":0,"bounds":"flush",
"spec":{"width":173,"height":34,"encoding":{"x":{"field":"w","type":"quantitative","scale":{"domain":[1800,1600],"nice":false,"zero":false},"axis":{"values":[1800,1750,1700,1650,1600],"labels":false,"title":null}}},
"layer":[
{"transform":[{"filter":"datum.k != 't9'"}],"mark":{"type":"line","strokeDash":[2,2],"strokeWidth":1,"color":"#000"},"encoding":{"y":{"datum":0,"type":"quantitative","scale":{"domain":[0,34]},"axis":null}}},
{"mark":{"type":"line","interpolate":"monotone","strokeWidth":2.5},"encoding":{"y":{"field":"v","type":"quantitative","scale":{"domain":[0,34]},"axis":null},"color":{"field":"k","type":"nominal","scale":{"domain":["t1","t2","t3","t4","t5","t6","t7","t8","t9"],"range":["#6a2aa0","#1f5cff","#22a39f","#a11f0c","#a43fb3","#ffa41a","#1c9a2b","#ff3c14","#000000"]},"legend":null}}},
{"transform":[{"filter":"datum.k != 't9'"}],"mark":{"type":"line","interpolate":"monotone","strokeDash":[1.5,1.5],"strokeWidth":1.2,"color":"#1a1a1a"},"encoding":{"y":{"field":"t9","type":"quantitative","scale":{"domain":[0,34]},"axis":null}}}
]}},
{"data":{"name":"biR"},"transform":[{"fold":["t1","t2","t3","t4","t5","t6","t7","t8","t9"],"as":["k","v"]},{"lookup":"k","from":{"data":{"name":"nb"},"key":"k","fields":["n"]}}],
"facet":{"row":{"field":"k","type":"nominal","title":null,"header":{"labels":false}}},"spacing":0,"bounds":"flush",
"spec":{"width":172,"height":34,"encoding":{"x":{"field":"w","type":"quantitative","scale":{"domain":[1600,1400],"nice":false,"zero":false},"axis":{"values":[1600,1550,1500,1450,1400],"labels":false,"title":null}}},
"layer":[
{"transform":[{"filter":"datum.k != 't9'"}],"mark":{"type":"line","strokeDash":[2,2],"strokeWidth":1,"color":"#000"},"encoding":{"y":{"datum":0,"type":"quantitative","scale":{"domain":[0,34]},"axis":null}}},
{"mark":{"type":"line","interpolate":"monotone","strokeWidth":2.5},"encoding":{"y":{"field":"v","type":"quantitative","scale":{"domain":[0,34]},"axis":null},"color":{"field":"k","type":"nominal","scale":{"domain":["t1","t2","t3","t4","t5","t6","t7","t8","t9"],"range":["#6a2aa0","#1f5cff","#22a39f","#a11f0c","#a43fb3","#ffa41a","#1c9a2b","#ff3c14","#000000"]},"legend":null}}},
{"transform":[{"filter":"datum.k != 't9'"}],"mark":{"type":"line","interpolate":"monotone","strokeDash":[1.5,1.5],"strokeWidth":1.2,"color":"#1a1a1a"},"encoding":{"y":{"field":"t9","type":"quantitative","scale":{"domain":[0,34]},"axis":null}}},
{"transform":[{"filter":"datum.w == 1400"}],"mark":{"type":"text","align":"left","baseline":"middle","dx":4,"dy":-4,"fontSize":16,"fontWeight":"bold","font":"Lato"},"encoding":{"y":{"datum":0,"type":"quantitative","scale":{"domain":[0,34]},"axis":null},"text":{"field":"n","type":"nominal"},"color":{"field":"k","type":"nominal","legend":null}}}
]}}
],"spacing":-3},
{"title":{"text":"Wavenumbers [cm⁻¹]","orient":"bottom","offset":3,"fontSize":16,"dx":8},
"hconcat":[
{"data":{"name":"bvL"},"transform":[{"fold":["t1","t2","t3","t4","t5","t6","t7","t8","t9"],"as":["k","v"]}],
"facet":{"row":{"field":"k","type":"nominal","title":"VCD","header":{"labels":false,"titlePadding":2}}},"spacing":0,"bounds":"flush",
"spec":{"width":173,"height":34,"encoding":{"x":{"field":"w","type":"quantitative","scale":{"domain":[1800,1600],"nice":false,"zero":false},"axis":{"values":[1800,1750,1700,1650,1600],"format":"d","labelExpr":"datum.value % 100 == 0 ? datum.label : ''","labelAlign":{"condition":{"test":"datum.value == 1600","value":"right"},"value":"center"},"title":null}}},
"layer":[
{"mark":{"type":"line","interpolate":"monotone","strokeWidth":2.5},"encoding":{"y":{"field":"v","type":"quantitative","scale":{"domain":[-17,17]},"axis":null},"color":{"field":"k","type":"nominal","scale":{"domain":["t1","t2","t3","t4","t5","t6","t7","t8","t9"],"range":["#6a2aa0","#1f5cff","#22a39f","#a11f0c","#a43fb3","#ffa41a","#1c9a2b","#ff3c14","#000000"]},"legend":null}}},
{"transform":[{"filter":"datum.k != 't9'"}],"mark":{"type":"line","interpolate":"monotone","strokeDash":[1.5,1.5],"strokeWidth":1.2,"color":"#1a1a1a"},"encoding":{"y":{"field":"t9","type":"quantitative","scale":{"domain":[-17,17]},"axis":null}}}
]}},
{"data":{"name":"bvR"},"transform":[{"fold":["t1","t2","t3","t4","t5","t6","t7","t8","t9"],"as":["k","v"]},{"lookup":"k","from":{"data":{"name":"nb"},"key":"k","fields":["n"]}}],
"facet":{"row":{"field":"k","type":"nominal","title":null,"header":{"labels":false}}},"spacing":0,"bounds":"flush",
"spec":{"width":172,"height":34,"encoding":{"x":{"field":"w","type":"quantitative","scale":{"domain":[1600,1400],"nice":false,"zero":false},"axis":{"values":[1600,1550,1500,1450,1400],"format":"d","labelExpr":"datum.value == 1500 || datum.value == 1400 ? datum.label : ''","title":null}}},
"layer":[
{"mark":{"type":"line","interpolate":"monotone","strokeWidth":2.5},"encoding":{"y":{"field":"v","type":"quantitative","scale":{"domain":[-17,17]},"axis":null},"color":{"field":"k","type":"nominal","scale":{"domain":["t1","t2","t3","t4","t5","t6","t7","t8","t9"],"range":["#6a2aa0","#1f5cff","#22a39f","#a11f0c","#a43fb3","#ffa41a","#1c9a2b","#ff3c14","#000000"]},"legend":null}}},
{"transform":[{"filter":"datum.k != 't9'"}],"mark":{"type":"line","interpolate":"monotone","strokeDash":[1.5,1.5],"strokeWidth":1.2,"color":"#1a1a1a"},"encoding":{"y":{"field":"t9","type":"quantitative","scale":{"domain":[-17,17]},"axis":null}}},
{"transform":[{"filter":"datum.w == 1400"}],"mark":{"type":"text","align":"left","baseline":"middle","dx":4,"dy":-1,"fontSize":16,"fontWeight":"bold","font":"Lato"},"encoding":{"y":{"datum":0,"type":"quantitative","scale":{"domain":[-17,17]},"axis":null},"text":{"field":"n","type":"nominal"},"color":{"field":"k","type":"nominal","legend":null}}}
]}}
],"spacing":-3}
],"spacing":13}
],"spacing":0},
{"title":{"text":"cyclo(Phe-Pro-Gly-Arg-Gly-Asp) (8) SI","offset":7,"dx":10},
"vconcat":[
{"hconcat":[
{"data":{"name":"ciL"},"transform":[{"fold":["t1","t2","t3","t4","t5","t6","t7","t8","t9"],"as":["k","v"]}],
"facet":{"row":{"field":"k","type":"nominal","title":"IR","header":{"labels":false,"titlePadding":2}}},"spacing":0,"bounds":"flush",
"spec":{"width":174,"height":34,"encoding":{"x":{"field":"w","type":"quantitative","scale":{"domain":[1800,1600],"nice":false,"zero":false},"axis":{"values":[1800,1750,1700,1650,1600],"labels":false,"title":null}}},
"layer":[
{"transform":[{"filter":"datum.k != 't9'"}],"mark":{"type":"line","strokeDash":[2,2],"strokeWidth":1,"color":"#000"},"encoding":{"y":{"datum":0,"type":"quantitative","scale":{"domain":[0,34]},"axis":null}}},
{"mark":{"type":"line","interpolate":"monotone","strokeWidth":2.5},"encoding":{"y":{"field":"v","type":"quantitative","scale":{"domain":[0,34]},"axis":null},"color":{"field":"k","type":"nominal","scale":{"domain":["t1","t2","t3","t4","t5","t6","t7","t8","t9"],"range":["#6a2aa0","#1f5cff","#22a39f","#a11f0c","#a43fb3","#ffa41a","#1c9a2b","#ff3c14","#000000"]},"legend":null}}},
{"transform":[{"filter":"datum.k != 't9'"}],"mark":{"type":"line","interpolate":"monotone","strokeDash":[1.5,1.5],"strokeWidth":1.2,"color":"#1a1a1a"},"encoding":{"y":{"field":"t9","type":"quantitative","scale":{"domain":[0,34]},"axis":null}}}
]}},
{"data":{"name":"ciR"},"transform":[{"fold":["t1","t2","t3","t4","t5","t6","t7","t8","t9"],"as":["k","v"]},{"lookup":"k","from":{"data":{"name":"nci"},"key":"k","fields":["n"]}}],
"facet":{"row":{"field":"k","type":"nominal","title":null,"header":{"labels":false}}},"spacing":0,"bounds":"flush",
"spec":{"width":70,"height":34,"encoding":{"x":{"field":"w","type":"quantitative","scale":{"domain":[1600,1500],"nice":false,"zero":false},"axis":{"values":[1600,1550,1500],"labels":false,"title":null}}},
"layer":[
{"transform":[{"filter":"datum.k != 't9'"}],"mark":{"type":"line","strokeDash":[2,2],"strokeWidth":1,"color":"#000"},"encoding":{"y":{"datum":0,"type":"quantitative","scale":{"domain":[0,34]},"axis":null}}},
{"mark":{"type":"line","interpolate":"monotone","strokeWidth":2.5},"encoding":{"y":{"field":"v","type":"quantitative","scale":{"domain":[0,34]},"axis":null},"color":{"field":"k","type":"nominal","scale":{"domain":["t1","t2","t3","t4","t5","t6","t7","t8","t9"],"range":["#6a2aa0","#1f5cff","#22a39f","#a11f0c","#a43fb3","#ffa41a","#1c9a2b","#ff3c14","#000000"]},"legend":null}}},
{"transform":[{"filter":"datum.k != 't9'"}],"mark":{"type":"line","interpolate":"monotone","strokeDash":[1.5,1.5],"strokeWidth":1.2,"color":"#1a1a1a"},"encoding":{"y":{"field":"t9","type":"quantitative","scale":{"domain":[0,34]},"axis":null}}},
{"transform":[{"filter":"datum.w == 1500"}],"mark":{"type":"text","align":"left","baseline":"middle","dx":5,"dy":-4,"fontSize":16,"fontWeight":"bold","font":"Lato"},"encoding":{"y":{"datum":0,"type":"quantitative","scale":{"domain":[0,34]},"axis":null},"text":{"field":"n","type":"nominal"},"color":{"field":"k","type":"nominal","legend":null}}}
]}}
],"spacing":-3},
{"title":{"text":"Wavenumbers [cm⁻¹]","orient":"bottom","offset":3,"fontSize":16,"dx":47},
"hconcat":[
{"data":{"name":"cvL"},"transform":[{"fold":["t1","t2","t3","t4","t5","t6","t7","t8","t9"],"as":["k","v"]}],
"facet":{"row":{"field":"k","type":"nominal","title":"VCD","header":{"labels":false,"titlePadding":2}}},"spacing":0,"bounds":"flush",
"spec":{"width":174,"height":34,"encoding":{"x":{"field":"w","type":"quantitative","scale":{"domain":[1800,1600],"nice":false,"zero":false},"axis":{"values":[1800,1750,1700,1650,1600],"format":"d","labelExpr":"datum.value % 100 == 0 ? datum.label : ''","labelAlign":{"condition":{"test":"datum.value == 1600","value":"right"},"value":"center"},"title":null}}},
"layer":[
{"mark":{"type":"line","interpolate":"monotone","strokeWidth":2.5},"encoding":{"y":{"field":"v","type":"quantitative","scale":{"domain":[-17,17]},"axis":null},"color":{"field":"k","type":"nominal","scale":{"domain":["t1","t2","t3","t4","t5","t6","t7","t8","t9"],"range":["#6a2aa0","#1f5cff","#22a39f","#a11f0c","#a43fb3","#ffa41a","#1c9a2b","#ff3c14","#000000"]},"legend":null}}},
{"transform":[{"filter":"datum.k != 't9'"}],"mark":{"type":"line","interpolate":"monotone","strokeDash":[1.5,1.5],"strokeWidth":1.2,"color":"#1a1a1a"},"encoding":{"y":{"field":"t9","type":"quantitative","scale":{"domain":[-17,17]},"axis":null}}}
]}},
{"data":{"name":"cvR"},"transform":[{"fold":["t1","t2","t3","t4","t5","t6","t7","t8","t9"],"as":["k","v"]},{"lookup":"k","from":{"data":{"name":"ncv"},"key":"k","fields":["n"]}}],
"facet":{"row":{"field":"k","type":"nominal","title":null,"header":{"labels":false}}},"spacing":0,"bounds":"flush",
"spec":{"width":70,"height":34,"encoding":{"x":{"field":"w","type":"quantitative","scale":{"domain":[1600,1500],"nice":false,"zero":false},"axis":{"values":[1600,1550,1500],"format":"d","labelExpr":"datum.value == 1500 ? datum.label : ''","title":null}}},
"layer":[
{"mark":{"type":"line","interpolate":"monotone","strokeWidth":2.5},"encoding":{"y":{"field":"v","type":"quantitative","scale":{"domain":[-17,17]},"axis":null},"color":{"field":"k","type":"nominal","scale":{"domain":["t1","t2","t3","t4","t5","t6","t7","t8","t9"],"range":["#6a2aa0","#1f5cff","#22a39f","#a11f0c","#a43fb3","#ffa41a","#1c9a2b","#ff3c14","#000000"]},"legend":null}}},
{"transform":[{"filter":"datum.k != 't9'"}],"mark":{"type":"line","interpolate":"monotone","strokeDash":[1.5,1.5],"strokeWidth":1.2,"color":"#1a1a1a"},"encoding":{"y":{"field":"t9","type":"quantitative","scale":{"domain":[-17,17]},"axis":null}}},
{"transform":[{"filter":"datum.w == 1500"}],"mark":{"type":"text","align":"left","baseline":"middle","dx":5,"dy":-1,"fontSize":16,"fontWeight":"bold","font":"Lato"},"encoding":{"y":{"datum":0,"type":"quantitative","scale":{"domain":[-17,17]},"axis":null},"text":{"field":"n","type":"nominal"},"color":{"field":"k","type":"nominal","legend":null}}}
]}}
],"spacing":-3}
],"spacing":13}
],
"spacing":28
}
